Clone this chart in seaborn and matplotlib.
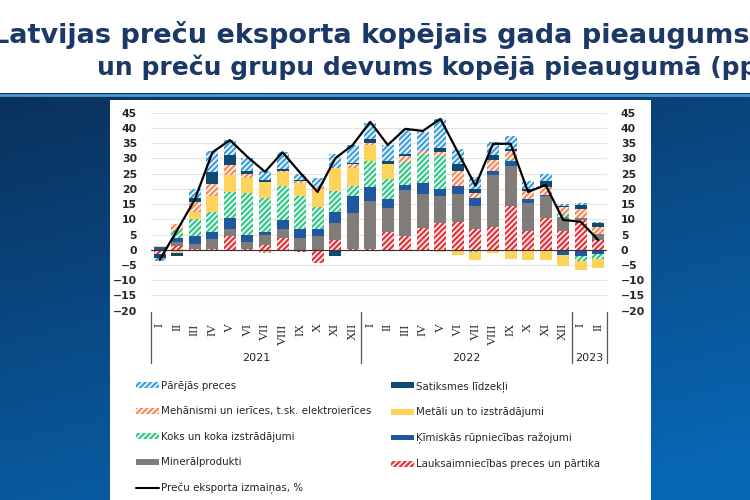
import numpy as np
import pandas as pd
import matplotlib
matplotlib.use("Agg")
import matplotlib.pyplot as plt
import seaborn as sns
from matplotlib.patches import Patch, Rectangle
from matplotlib.lines import Line2D
from matplotlib.colors import to_rgb

# months (roman numerals) and years
months = ["I", "II", "III", "IV", "V", "VI", "VII", "VIII", "IX", "X", "XI", "XII",
          "I", "II", "III", "IV", "V", "VI", "VII", "VIII", "IX", "X", "XI", "XII",
          "I", "II"]
years = ["2021", "2022", "2023"]
year_sizes = [12, 12, 2]

# contributions, pp (stack order bottom -> top)
lauksaimn = [-1.3, 1.4, 0.3, 0.2, 4.5, 0.3, 1.5, 4.0, -0.6, -4.5, 3.2, 0.3,
             0.3, 5.8, 4.6, 7.2, 8.8, 9.2, 6.8, 7.6, 14.3, 6.2, 10.3, 6.3, 9.8, 3.2]
mineral = [0.0, 1.3, 1.7, 3.3, 2.3, 2.4, 3.2, 2.8, 3.8, 4.5, 5.5, 11.9,
           15.7, 7.9, 14.9, 11.0, 8.9, 9.1, 7.7, 16.9, 13.2, 9.1, 7.2, 4.5, 0.5, 2.0]
kimiskas = [0.8, 1.3, 2.6, 2.5, 3.7, 2.3, 1.3, 3.0, 3.0, 2.3, 3.6, 5.5,
            4.5, 3.0, 1.8, 3.6, 2.3, 2.5, 2.5, 1.3, 1.7, 1.4, 0.5, -1.8, -2.0, -1.5]
koks = [0.0, 2.5, 5.4, 6.5, 8.5, 13.5, 11.0, 11.2, 10.7, 7.2, 7.0, 3.3,
        8.8, 6.6, 7.5, 9.7, 10.7, -0.5, -0.8, 0.0, 0.6, 0.0, 0.0, 1.0, -1.8, -1.5]
metali = [0.3, -1.1, 2.3, 5.0, 5.5, 5.0, 5.3, 4.5, 4.5, 6.0, 7.7, 5.7,
          5.2, 4.7, 0.0, 0.0, -0.8, -1.2, -2.5, -1.0, -3.0, -3.3, -3.5, -3.5, -2.7, -3.0]
mehanismi = [0.2, 1.9, 3.5, 4.0, 3.3, 1.5, -1.0, 0.5, 0.5, 0.5, 0.0, 1.6,
             0.5, 0.0, 1.9, 1.0, 1.3, 5.2, 1.5, 3.7, 2.5, 2.6, 2.5, 2.2, 3.0, 2.3]
satiksmes = [-1.5, -0.8, 1.1, 4.0, 3.2, 1.0, 0.7, 0.5, 0.5, 0.0, -2.0, 0.2,
             1.3, 1.0, 0.6, -0.2, 1.5, 2.0, 1.5, 1.5, 0.7, 0.7, 2.2, 0.3, 1.5, 1.2]
parejas = [-1.0, 0.0, 3.1, 7.0, 5.0, 4.0, 3.0, 5.5, 2.0, 3.0, 4.5, 5.8,
           5.2, 5.3, 8.2, 6.0, 9.5, 5.0, 4.0, 4.5, 4.5, 2.7, 2.3, 0.7, 0.7, 0.5]
# total export change, %
kopa = [-3.3, 6.5, 16.5, 32.0, 36.0, 30.5, 25.6, 32.0, 25.3, 19.0, 30.0, 34.4,
        42.0, 34.4, 39.7, 39.0, 43.0, 32.0, 21.0, 34.8, 34.8, 19.0, 21.3, 9.8, 9.2, 3.2]

series = [
    ("Lauksaimniecības preces un pārtika", lauksaimn, "#e3262f", True),
    ("Minerālprodukti", mineral, "#807c79", False),
    ("Ķīmiskās rūpniecības ražojumi", kimiskas, "#1f57a0", False),
    ("Koks un koka izstrādājumi", koks, "#28c47f", True),
    ("Metāli un to izstrādājumi", metali, "#fdd35c", False),
    ("Mehānismi un ierīces, t.sk. elektroierīces", mehanismi, "#f5834f", True),
    ("Satiksmes līdzekļi", satiksmes, "#0f4a72", False),
    ("Pārējās preces", parejas, "#3399d8", True),
]

sns.set_theme(style="white")
plt.rcParams["font.family"] = ["DejaVu Sans"]
plt.rcParams["hatch.linewidth"] = 1.35

fig = plt.figure(figsize=(7.5, 5), dpi=100)

# slide background: white header, blue gradient below
bg = fig.add_axes([0, 0, 1, 1 - 93 / 500])
gx = np.linspace(0, 1, 200)
gy = np.linspace(0, 1, 200)
GX, GY = np.meshgrid(gx, gy)
c_top = np.array([0.04, 0.19, 0.36])
c_bot = np.array([0.03, 0.40, 0.70])
t = np.clip(0.75 * GY + 0.35 * GX, 0, 1)[..., None]
img = c_top * (1 - t) + c_bot * t
bg.imshow(img, aspect="auto", extent=[0, 1, 0, 1])
bg.axhline(0.995, color="#4b9ad6", lw=2)
bg.set_axis_off()
fig.add_artist(Rectangle((110 / 750, 0), (651 - 110) / 750, 400 / 500,
                         transform=fig.transFigure, facecolor="white",
                         edgecolor="none", zorder=1))

title_color = "#1b3866"
fig.text(-8 / 750, 1 - 35 / 500, "Latvijas preču eksporta kopējais gada pieaugums",
         fontsize=19.5, fontweight="bold", color=title_color, ha="left", va="center")
fig.text(97 / 750, 1 - 67 / 500, "un preču grupu devums kopējā pieaugumā (pp)",
         fontsize=18, fontweight="bold", color=title_color, ha="left", va="center")

ax = fig.add_axes([151 / 750, 1 - 310.7 / 500, 456 / 750, 198 / 500], zorder=2)
ax.set_facecolor("white")

pos = np.arange(len(months))
pos_base = np.zeros(len(months))
neg_base = np.zeros(len(months))
handles = {}
for name, vals, color, hatched in series:
    v = np.array(vals)
    bottom = np.where(v >= 0, pos_base, neg_base)
    df = pd.DataFrame({"pos": pos, "val": v})
    if hatched:
        tint = tuple(0.85 + 0.15 * c for c in to_rgb(color))
        style = dict(facecolor=tint, edgecolor=color, hatch="//////", linewidth=0)
    else:
        style = dict(facecolor=color, edgecolor=color, linewidth=0)
    sns.barplot(data=df, x="pos", y="val", width=0.68, errorbar=None,
                color=color, saturation=1, bottom=bottom, ax=ax, **style)
    pos_base = pos_base + np.where(v >= 0, v, 0)
    neg_base = neg_base + np.where(v < 0, v, 0)
    handles[name] = Patch(**style)

sns.lineplot(x=pos, y=kopa, color="black", lw=1.6, ax=ax, zorder=5)
ax.axhline(0, color="#333333", lw=0.8, zorder=4)

ax.set_ylim(-20, 45)
ax.set_xlim(-0.5, len(months) - 0.5)
ax.set_yticks(np.arange(-20, 46, 5))
ax.yaxis.grid(True, color="#e4e4e4", lw=0.8)
ax.set_axisbelow(True)
for s in ax.spines.values():
    s.set_visible(False)
ax.tick_params(axis="y", left=False, right=False, labelleft=True, labelright=True,
               labelsize=7.8, pad=4)
for lab in ax.get_yticklabels():
    lab.set_fontweight("bold")
ax.set_xlabel("")
ax.set_ylabel("")
ax.set_xticks(pos)
ax.set_xticklabels(months, rotation=90, fontsize=9, family="Liberation Serif",
                   va="top")
ax.tick_params(axis="x", bottom=False, pad=3)

# year groups with separators
trans = ax.get_xaxis_transform()
edges = np.concatenate([[0], np.cumsum(year_sizes)]) - 0.5
for e in edges:
    ax.plot([e, e], [-0.005, -0.265], color="#555555", lw=0.9, transform=trans,
            clip_on=False)
for i, yr in enumerate(years):
    ax.text((edges[i] + edges[i + 1]) / 2, -0.238, yr, transform=trans,
            ha="center", va="center", fontsize=8)

# legend in two columns
left_items = ["Pārējās preces", "Mehānismi un ierīces, t.sk. elektroierīces",
              "Koks un koka izstrādājumi", "Minerālprodukti"]
right_items = ["Satiksmes līdzekļi", "Metāli un to izstrādājumi",
               "Ķīmiskās rūpniecības ražojumi", "Lauksaimniecības preces un pārtika"]
line_h = Line2D([0], [0], color="black", lw=1.5)
leg_kw = dict(frameon=False, fontsize=7.4, handlelength=2.2, handleheight=0.5,
              handletextpad=0.2, labelspacing=1.5, borderpad=0, borderaxespad=0,
              loc="upper left")
leg1 = fig.legend([handles[k] for k in left_items] + [line_h],
                  left_items + ["Preču eksporta izmaiņas, %"],
                  bbox_to_anchor=(136 / 750, 1 - 381 / 500), **leg_kw)
leg2 = fig.legend([handles[k] for k in right_items], right_items,
                  bbox_to_anchor=(391 / 750, 1 - 381 / 500), **leg_kw)
leg1.set_zorder(3)
leg2.set_zorder(3)

fig.savefig("out.png", dpi=100)
